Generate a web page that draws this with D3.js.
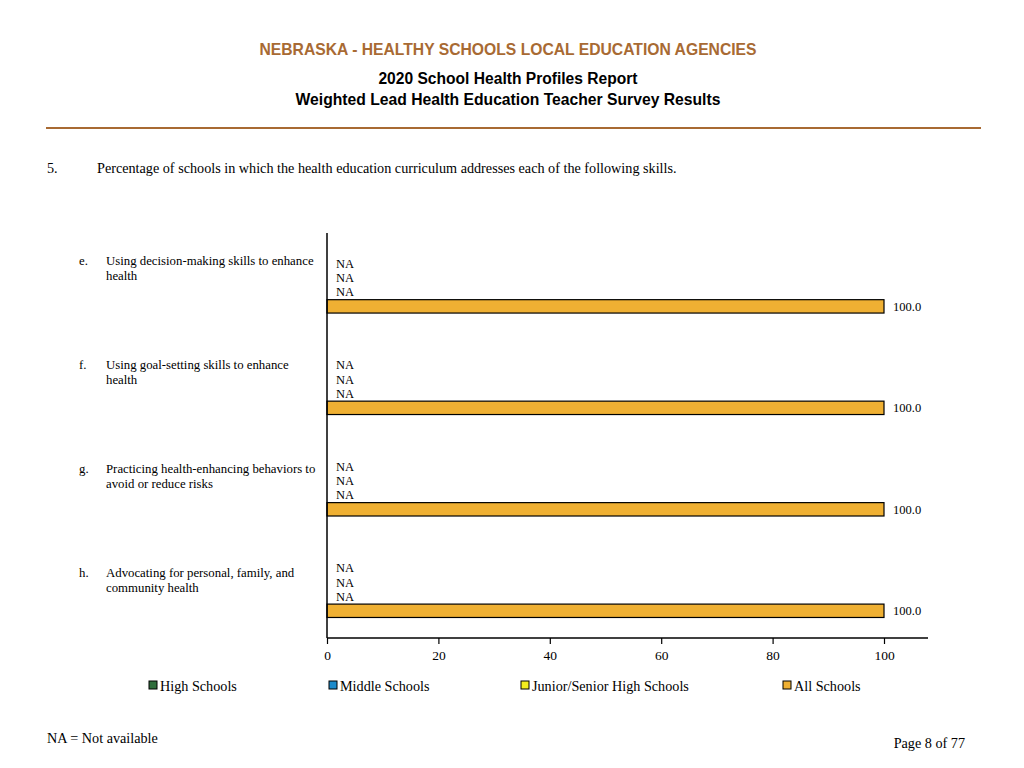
<!DOCTYPE html>
<html>
<head>
<meta charset="utf-8">
<script src="https://cdn.jsdelivr.net/npm/d3@7"></script>
<style>
  body { margin: 0; background: #fff; }
  svg text { fill: #000; }
</style>
</head>
<body>
<div id="chart"></div>
<script>
var w = 1024;
var h = 768;

// data read from the page
var letters = ["e.", "f.", "g.", "h."];
var categories = [
  ["Using decision-making skills to enhance", "health"],
  ["Using goal-setting skills to enhance", "health"],
  ["Practicing health-enhancing behaviors to", "avoid or reduce risks"],
  ["Advocating for personal, family, and", "community health"]
];
var seriesNames = ["High Schools", "Middle Schools", "Junior/Senior High Schools", "All Schools"];
var highSchools = [null, null, null, null];
var middleSchools = [null, null, null, null];
var juniorSenior = [null, null, null, null];
var allSchools = [100.0, 100.0, 100.0, 100.0];
var xTicks = [0, 20, 40, 60, 80, 100];

var colors = ["#2f6d3c", "#1d8bcb", "#f3ee1e", "#efb033"];
var serif = "'Liberation Serif', 'Times New Roman', serif";
var sans = "'Liberation Sans Narrow', 'Liberation Sans', Arial, sans-serif";

var series = [highSchools, middleSchools, juniorSenior, allSchools];

var svg = d3.select("#chart")
            .append("svg")
            .attr("width", w)
            .attr("height", h);

// header
svg.append("text")
   .attr("x", 508).attr("y", 55)
   .attr("text-anchor", "middle")
   .attr("font-family", sans).attr("font-weight", "bold").attr("font-size", "15.7px")
   .style("fill", "#a86a33")
   .text("NEBRASKA - HEALTHY SCHOOLS LOCAL EDUCATION AGENCIES");

svg.append("text")
   .attr("x", 508).attr("y", 84)
   .attr("text-anchor", "middle")
   .attr("font-family", sans).attr("font-weight", "bold").attr("font-size", "15.6px")
   .text("2020 School Health Profiles Report");

svg.append("text")
   .attr("x", 508).attr("y", 105)
   .attr("text-anchor", "middle")
   .attr("font-family", sans).attr("font-weight", "bold").attr("font-size", "15.7px")
   .text("Weighted Lead Health Education Teacher Survey Results");

svg.append("line")
   .attr("x1", 46).attr("x2", 981)
   .attr("y1", 128).attr("y2", 128)
   .attr("stroke", "#a86a33").attr("stroke-width", 2);

svg.append("text")
   .attr("x", 47).attr("y", 173)
   .attr("font-family", serif).attr("font-size", "14.2px")
   .text("5.");
svg.append("text")
   .attr("x", 97).attr("y", 173)
   .attr("font-family", serif).attr("font-size", "14.2px")
   .text("Percentage of schools in which the health education curriculum addresses each of the following skills.");

// scales
var x = d3.scaleLinear().domain([0, 100]).range([327, 884]);
var y = d3.scaleBand()
          .domain(d3.range(categories.length))
          .range([234, 640])
          .paddingInner(0.433)
          .paddingOuter(0.217);
var ySub = d3.scaleBand()
             .domain(d3.range(series.length))
             .range([0, y.bandwidth()]);
// the item texts sit on their own slightly wider spacing
var yLabel = d3.scalePoint()
               .domain(d3.range(categories.length))
               .range([265, 577]);

// category labels
var labels = svg.selectAll("g.lab")
   .data(categories)
   .enter()
   .append("g")
   .attr("class", "lab")
   .attr("transform", function(d, i) { return "translate(0," + yLabel(i) + ")"; });

labels.append("text")
   .attr("x", 79).attr("y", 0)
   .attr("font-family", serif).attr("font-size", "12.8px")
   .text(function(d, i) { return letters[i]; });

labels.each(function(d) {
  var g = d3.select(this);
  d.forEach(function(line, k) {
    g.append("text")
     .attr("x", 106).attr("y", k * 15.4)
     .attr("font-family", serif).attr("font-size", "12.8px")
     .text(line);
  });
});

// bars and value labels
var groups = svg.selectAll("g.cat")
   .data(categories)
   .enter()
   .append("g")
   .attr("class", "cat")
   .attr("transform", function(d, i) { return "translate(0," + y(i) + ")"; });

groups.each(function(d, i) {
  var g = d3.select(this);
  series.forEach(function(s, j) {
    var v = s[i];
    var yy = ySub(j);
    if (v !== null) {
      g.append("rect")
       .attr("x", x(0))
       .attr("y", yy + 0.5)
       .attr("width", x(v) - x(0))
       .attr("height", ySub.bandwidth() - 1)
       .attr("fill", colors[j])
       .attr("stroke", "#000")
       .attr("stroke-width", 1.2);
    }
    g.append("text")
     .attr("x", v === null ? x(0) + 9 : x(v) + 9)
     .attr("y", yy + ySub.bandwidth() / 2 + 4.5)
     .attr("font-family", serif).attr("font-size", "12.5px")
     .text(v === null ? "NA" : v.toFixed(1));
  });
});

// axes
svg.append("line")
   .attr("x1", x(0)).attr("x2", x(0))
   .attr("y1", 233).attr("y2", 638)
   .attr("stroke", "#000").attr("stroke-width", 1.5);

var xAxis = svg.append("g")
   .attr("transform", "translate(0,638)")
   .call(d3.axisBottom(x).tickValues(xTicks).tickSize(6).tickSizeOuter(0).tickPadding(6));
xAxis.select(".domain").remove();
xAxis.append("line")
   .attr("x1", x(0)).attr("x2", 928)
   .attr("stroke", "#000").attr("stroke-width", 1.5);
xAxis.selectAll(".tick line").attr("stroke", "#000").attr("stroke-width", 1.2);
xAxis.selectAll(".tick text")
   .attr("font-family", serif).attr("font-size", "13.5px")
   .style("fill", "#000");

// legend
var legendX = [149, 329, 521, 783];
var legend = svg.selectAll("g.leg")
   .data(seriesNames)
   .enter()
   .append("g")
   .attr("class", "leg")
   .attr("transform", function(d, i) { return "translate(" + legendX[i] + ",681)"; });
legend.append("rect")
   .attr("width", 8).attr("height", 8)
   .attr("fill", function(d, i) { return colors[i]; })
   .attr("stroke", "#000").attr("stroke-width", 1);
legend.append("text")
   .attr("x", 11).attr("y", 9.5)
   .attr("font-family", serif).attr("font-size", "14.2px")
   .text(function(d) { return d; });

// footer
svg.append("text")
   .attr("x", 47).attr("y", 743)
   .attr("font-family", serif).attr("font-size", "14.2px")
   .text("NA = Not available");
svg.append("text")
   .attr("x", 965).attr("y", 748)
   .attr("text-anchor", "end")
   .attr("font-family", serif).attr("font-size", "14.2px")
   .text("Page 8 of 77");
</script>
</body>
</html>
